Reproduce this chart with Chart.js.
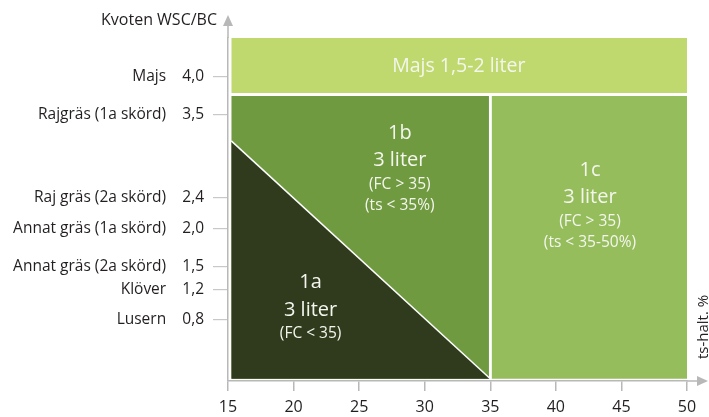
<!DOCTYPE html>
<html>
<head>
<meta charset="utf-8">
<script src="https://cdn.jsdelivr.net/npm/chart.js@4.4.0/dist/chart.umd.min.js"></script>
<style>
  html, body { margin: 0; padding: 0; background: #fff; }
  #wrap { width: 709px; height: 417px; }
</style>
</head>
<body>
<div id="wrap"><canvas id="chart"></canvas></div>
<script>
// y axis: crop ratio WSC/BC
const yTickValues = [0.8, 1.2, 1.5, 2.0, 2.4, 3.5, 4.0];
const yTickNames = ['Lusern', 'Klöver', 'Annat gräs (2a skörd)', 'Annat gräs (1a skörd)',
                    'Raj gräs (2a skörd)', 'Rajgräs (1a skörd)', 'Majs'];

// regions, in axis units (x = ts-halt %, y = WSC/BC)
const majsTop = [{x: 15.25, y: 4.5}, {x: 50, y: 4.5}];
const majsBase = 3.78;
const top1b = [{x: 15.25, y: 3.74}, {x: 34.9, y: 3.74}];
const top1c = [{x: 35.1, y: 3.74}, {x: 50, y: 3.74}];
const diag1a = [{x: 15.25, y: 3.15}, {x: 35, y: 0.03}];
const floorY = 0.03;

const fontFam = '"Open Sans", "Noto Sans", sans-serif';
const textDark = '#231f20';
const axisGrey = '#b8b8b8';

// labels inside the regions: anchor (axis units) + lines
const regionLabels = [
  {x: 32.6, y: 4.13, lines: [['Majs 1,5-2 liter', 19.5]]},
  {x: 28.1, y: 3.25, lines: [['1b', 20], ['3 liter', 20], ['(FC > 35)', 15.5], ['(ts < 35%)', 15.5]]},
  {x: 42.6, y: 2.77, lines: [['1c', 20], ['3 liter', 20], ['(FC > 35)', 15.5], ['(ts < 35-50%)', 15.5]]},
  {x: 21.3, y: 1.29, lines: [['1a', 20], ['3 liter', 20], ['(FC < 35)', 15.5]]}
];

const fmt = v => v.toFixed(1).replace('.', ',');

const decor = {
  id: 'decor',
  afterDatasetsDraw(chart) {
    const {ctx, scales: {x, y}} = chart;
    ctx.save();
    ctx.fillStyle = '#f4f6ee';
    ctx.textAlign = 'center';
    ctx.textBaseline = 'middle';
    regionLabels.forEach(r => {
      const px = x.getPixelForValue(r.x);
      let py = y.getPixelForValue(r.y);
      r.lines.forEach((ln, i) => {
        if (i > 0) {
          const prev = r.lines[i - 1][1];
          py += (prev + ln[1]) * 0.68;
        }
        ctx.font = ln[1] + 'px ' + fontFam;
        ctx.fillText(ln[0], px, py);
      });
    });
    ctx.restore();
  },
  afterDraw(chart) {
    const {ctx, chartArea: a} = chart;
    ctx.save();
    ctx.strokeStyle = axisGrey;
    ctx.fillStyle = axisGrey;
    ctx.lineWidth = 1.5;
    // axis extensions + arrow heads
    ctx.beginPath();
    ctx.moveTo(a.left, a.top);
    ctx.lineTo(a.left, 25);
    ctx.moveTo(a.right, a.bottom);
    ctx.lineTo(a.right + 10, a.bottom);
    ctx.stroke();
    ctx.beginPath();
    ctx.moveTo(a.left, 15);
    ctx.lineTo(a.left - 5, 26);
    ctx.lineTo(a.left + 5, 26);
    ctx.closePath();
    ctx.fill();
    ctx.beginPath();
    ctx.moveTo(a.right + 21, a.bottom);
    ctx.lineTo(a.right + 10, a.bottom - 5);
    ctx.lineTo(a.right + 10, a.bottom + 5);
    ctx.closePath();
    ctx.fill();
    // axis titles
    ctx.fillStyle = textDark;
    ctx.font = '16px ' + fontFam;
    ctx.textAlign = 'right';
    ctx.textBaseline = 'middle';
    ctx.fillText('Kvoten WSC/BC', a.left - 11, 20);
    ctx.font = '15px ' + fontFam;
    ctx.translate(704, 327);
    ctx.rotate(-Math.PI / 2);
    ctx.textAlign = 'center';
    ctx.fillText('ts-halt. %', 0, 0);
    ctx.restore();
  }
};

const band = (data, fill, color, extra) => Object.assign({
  data: data,
  fill: fill,
  backgroundColor: color,
  borderWidth: 0,
  pointRadius: 0,
  order: 1
}, extra || {});

new Chart(document.getElementById('chart'), {
  type: 'line',
  data: {
    datasets: [
      band(diag1a, {value: floorY}, '#2f3b1c', {borderColor: '#ffffff', borderWidth: 1.5, order: 0}),
      band(top1b, {value: floorY}, '#6f9a40'),
      band(top1c, {value: floorY}, '#95bd5c'),
      band(majsTop, {value: majsBase}, '#bfd96f')
    ]
  },
  options: {
    responsive: true,
    maintainAspectRatio: false,
    animation: false,
    layout: {padding: {top: 38, right: 22, bottom: 0, left: 0}},
    plugins: {legend: {display: false}, tooltip: {enabled: false}},
    scales: {
      x: {
        type: 'linear',
        min: 15,
        max: 50,
        ticks: {stepSize: 5, color: textDark, padding: 7, font: {family: fontFam, size: 16}},
        grid: {drawOnChartArea: false, tickLength: 10, color: axisGrey, lineWidth: 1.5},
        border: {color: axisGrey, width: 1.5},
        afterFit: s => { s.height = 36; }
      },
      y: {
        min: 0,
        max: 4.5,
        afterBuildTicks: s => { s.ticks = yTickValues.map(v => ({value: v})); },
        ticks: {
          autoSkip: false,
          color: textDark,
          padding: 9,
          font: {family: fontFam, size: 15.5},
          callback: v => yTickNames[yTickValues.indexOf(v)] + '\u00a0\u00a0\u00a0\u00a0' + fmt(v)
        },
        grid: {drawOnChartArea: false, tickLength: 15, color: '#c8c8c8', lineWidth: 1.2},
        border: {color: axisGrey, width: 1.5},
        afterFit: s => { s.width = 228; }
      }
    }
  },
  plugins: [decor]
});
</script>
</body>
</html>
